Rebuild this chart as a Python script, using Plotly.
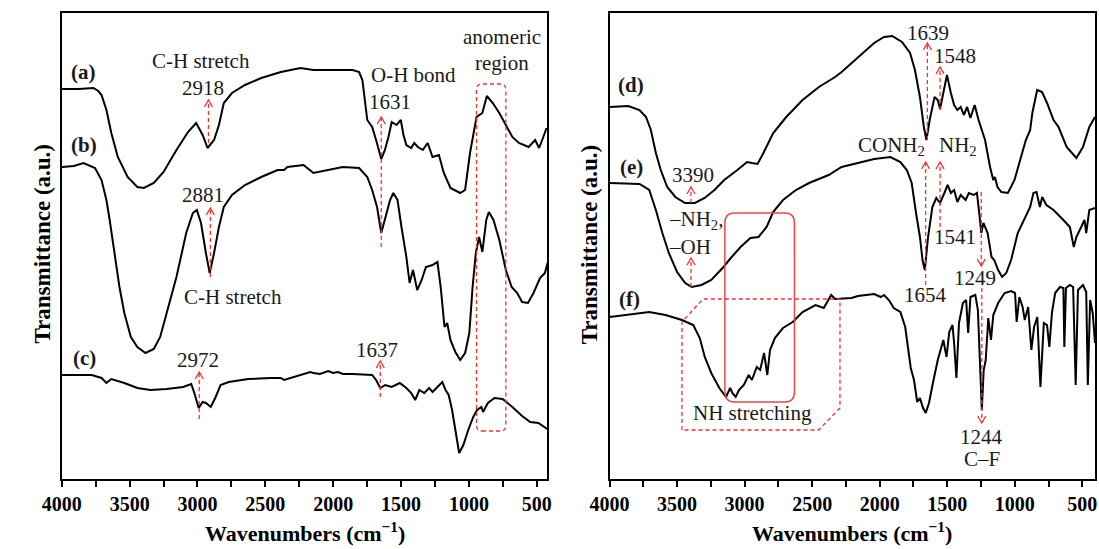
import plotly.graph_objects as go

# ---------------- data (wavenumber, cm-1 ; transmittance, a.u. offset) ----------------
a_wn = [3998, 3875, 3767, 3731, 3707, 3671, 3635, 3587, 3515, 3443, 3395, 3322, 3250, 3155, 3070, 3010, 2962, 2926, 2878, 2842,
        2806, 2746, 2650, 2530, 2386, 2241, 2146, 2001, 1857, 1809, 1785, 1749, 1713, 1684, 1646, 1619, 1593, 1569, 1533, 1502,
        1482, 1461, 1425, 1403, 1376, 1340, 1304, 1268, 1221, 1185, 1136, 1064, 1028, 992, 944, 901, 868, 824, 776, 728,
        680, 632, 560, 512, 483, 452, 428]
a_t = [390, 390, 391, 388, 384, 369, 346, 322, 302, 292, 291, 296, 307, 329, 347, 356, 344, 331, 339, 354,
       376, 386, 394, 401, 407, 411, 409, 409, 409, 407, 399, 359, 352, 339, 320, 329, 342, 357, 354, 359,
       344, 334, 331, 336, 332, 329, 336, 322, 324, 306, 291, 286, 289, 326, 362, 366, 383, 376, 366, 354,
       342, 336, 332, 339, 331, 342, 351]

b_wn = [3998, 3911, 3839, 3755, 3707, 3671, 3647, 3611, 3575, 3539, 3491, 3443, 3383, 3322, 3275, 3227, 3155, 3083, 3034, 3005,
        2974, 2938, 2910, 2878, 2842, 2806, 2746, 2650, 2530, 2410, 2362, 2338, 2266, 2218, 2146, 2037, 1929, 1809, 1749, 1713,
        1677, 1646, 1617, 1581, 1557, 1526, 1497, 1461, 1437, 1412, 1381, 1348, 1317, 1268, 1232, 1208, 1180, 1160, 1136, 1100,
        1064, 1028, 997, 973, 949, 925, 901, 872, 853, 819, 776, 728, 685, 644, 608, 565, 524, 476, 440, 421]
b_t = [312, 313, 316, 311, 299, 279, 259, 226, 192, 166, 142, 132, 126, 130, 142, 166, 202, 246, 266, 269,
       256, 226, 206, 226, 252, 272, 284, 294, 302, 309, 309, 312, 313, 314, 306, 309, 312, 311, 302, 289,
       272, 246, 262, 279, 286, 279, 252, 222, 196, 209, 189, 199, 212, 214, 217, 192, 152, 156, 139, 127,
       119, 126, 146, 192, 226, 242, 227, 259, 267, 259, 239, 209, 192, 186, 177, 176, 186, 201, 206, 216]

c_wn = [3998, 3779, 3707, 3671, 3635, 3539, 3443, 3347, 3227, 3106, 3046, 3023, 2991, 2962, 2938, 2902, 2866, 2830, 2770, 2626,
        2458, 2386, 2362, 2313, 2241, 2169, 2146, 2097, 2037, 2001, 1965, 1929, 1857, 1713, 1684, 1653, 1617, 1569, 1509, 1461,
        1425, 1396, 1365, 1329, 1293, 1268, 1232, 1196, 1172, 1149, 1124, 1100, 1072, 1041, 1005, 968, 940, 908, 896, 860,
        812, 752, 680, 608, 548, 488, 440, 423]
c_t = [104, 104, 101, 96, 100, 96, 91, 89, 90, 92, 95, 86, 71, 77, 76, 72, 82, 94, 97, 100,
       101, 101, 99, 101, 104, 107, 106, 105, 108, 106, 107, 105, 105, 104, 99, 91, 94, 92, 96, 91,
       86, 79, 89, 86, 91, 87, 92, 97, 89, 84, 69, 49, 26, 34, 49, 62, 69, 72, 67, 76,
       81, 80, 72, 63, 57, 56, 52, 50]

d_wn = [3996, 3911, 3862, 3778, 3730, 3694, 3657, 3621, 3573, 3513, 3441, 3368, 3296, 3223, 3151, 3054, 2982, 2946, 2904, 2861,
        2788, 2692, 2571, 2450, 2330, 2282, 2161, 2041, 1968, 1907, 1835, 1775, 1739, 1702, 1673, 1654, 1630, 1594, 1570, 1553,
        1529, 1502, 1473, 1449, 1425, 1400, 1377, 1353, 1328, 1297, 1268, 1220, 1183, 1159, 1147, 1128, 1099, 1051, 1002, 954,
        918, 886, 870, 834, 798, 761, 713, 676, 616, 544, 495, 448, 406]
d_t = [372, 373, 373, 369, 362, 349, 326, 309, 292, 282, 276, 276, 281, 289, 299, 309, 317, 316, 315, 326,
       346, 362, 379, 392, 402, 407, 422, 436, 442, 443, 437, 426, 409, 382, 352, 339, 359, 382, 379, 370,
       386, 404, 386, 374, 369, 372, 364, 372, 361, 374, 359, 339, 312, 299, 302, 292, 287, 286, 299, 322,
       339, 349, 366, 389, 387, 376, 359, 352, 332, 321, 332, 352, 362]

e_wn = [3998, 3778, 3706, 3657, 3609, 3561, 3500, 3440, 3392, 3319, 3247, 3163, 3102, 3030, 2957, 2897, 2837, 2789, 2716, 2620,
        2523, 2378, 2282, 2137, 2041, 1920, 1847, 1799, 1763, 1731, 1722, 1702, 1683, 1666, 1642, 1610, 1581, 1553, 1521, 1497,
        1473, 1449, 1425, 1400, 1364, 1340, 1304, 1280, 1263, 1248, 1232, 1201, 1172, 1152, 1123, 1094, 1063, 1027, 978, 930,
        886, 862, 839, 814, 797, 766, 713, 640, 592, 563, 544, 508, 484, 471, 448, 406]
e_t = [296, 295, 289, 269, 246, 226, 207, 196, 192, 194, 199, 211, 221, 232, 241, 242, 252, 267, 279, 289,
       296, 304, 312, 317, 320, 322, 317, 309, 296, 266, 259, 242, 219, 209, 242, 272, 281, 276, 286, 294,
       286, 289, 277, 284, 279, 286, 284, 286, 266, 246, 256, 246, 222, 219, 209, 202, 206, 219, 246, 259,
       272, 286, 287, 272, 282, 274, 269, 259, 252, 232, 242, 252, 259, 246, 269, 271]

f_wn = [3998, 3875, 3706, 3585, 3464, 3380, 3332, 3295, 3247, 3187, 3138, 3107, 3091, 3066, 3042, 3006, 2970, 2946, 2910, 2885,
        2856, 2832, 2812, 2776, 2716, 2644, 2571, 2475, 2414, 2359, 2330, 2209, 2161, 2041, 1992, 1968, 1932, 1896, 1847, 1811,
        1787, 1770, 1746, 1722, 1702, 1679, 1659, 1635, 1606, 1570, 1529, 1505, 1485, 1461, 1449, 1432, 1413, 1384, 1360, 1345,
        1328, 1292, 1273, 1256, 1244, 1230, 1215, 1196, 1176, 1159, 1123, 1075, 1027, 998, 986, 966, 942, 926, 901, 877,
        857, 833, 810, 785, 761, 744, 725, 701, 665, 640, 633, 621, 592, 568, 549, 532, 495, 471, 459, 442,
        423, 406]
f_t = [162, 164, 167, 164, 159, 154, 141, 122, 106, 91, 82, 91, 86, 82, 89, 94, 104, 99, 112, 109,
       126, 104, 129, 141, 151, 157, 167, 174, 171, 184, 180, 181, 183, 185, 182, 184, 179, 171, 167, 152,
       129, 111, 99, 77, 81, 71, 66, 76, 96, 119, 139, 122, 147, 154, 136, 101, 156, 176, 179, 146,
       182, 184, 169, 99, 69, 109, 119, 161, 139, 164, 176, 186, 188, 186, 157, 182, 172, 159, 172, 129,
       152, 162, 92, 156, 154, 132, 166, 186, 192, 191, 132, 191, 194, 192, 94, 189, 194, 187, 94, 179,
       166, 136]

major_ticks = [4000, 3500, 3000, 2500, 2000, 1500, 1000, 500]
minor_ticks = [3750, 3250, 2750, 2250, 1750, 1250, 750]

# ---------------- styling ----------------
FONT = "Liberation Serif"
RED = "#ff2b2b"
TXT = "#1a1a1a"
LBL = 21

fig = go.Figure()
for wn, t in [(a_wn, a_t), (b_wn, b_t), (c_wn, c_t)]:
    fig.add_trace(go.Scatter(x=wn, y=t, mode="lines", line=dict(color="black", width=2),
                             xaxis="x", yaxis="y", showlegend=False, hoverinfo="skip"))
for wn, t in [(d_wn, d_t), (e_wn, e_t), (f_wn, f_t)]:
    fig.add_trace(go.Scatter(x=wn, y=t, mode="lines", line=dict(color="black", width=2),
                             xaxis="x2", yaxis="y2", showlegend=False, hoverinfo="skip"))

annotations = []
shapes = []


def txt(ax, x, y, s, size=LBL, bold=False, xanchor="center"):
    annotations.append(dict(xref="x" if ax == 1 else "x2", yref="y" if ax == 1 else "y2",
                            x=x, y=y, text=s, showarrow=False, xanchor=xanchor, yanchor="middle",
                            font=dict(family=FONT, size=size, color=TXT,
                                      weight="bold" if bold else "normal")))


def dline(ax, x, y0, y1, head):
    xr = "x" if ax == 1 else "x2"
    yr = "y" if ax == 1 else "y2"
    shapes.append(dict(type="line", xref=xr, yref=yr, x0=x, x1=x, y0=y0, y1=y1,
                       line=dict(color=RED, width=1.3, dash="4px,3px")))
    if head == "up":
        p = "M -4,-7 L 0,0 L 4,-7"
    else:
        p = "M -4,7 L 0,0 L 4,7"
    shapes.append(dict(type="path", xref=xr, yref=yr, xsizemode="pixel", ysizemode="pixel",
                       xanchor=x, yanchor=y1, path=p, line=dict(color=RED, width=1.3)))


def rrect(x0, x1, y0, y1, rx, ry):
    sx = 1 if x1 > x0 else -1
    sy = 1 if y1 > y0 else -1
    dx, dy = rx * sx, ry * sy
    return (f"M {x0+dx},{y0} L {x1-dx},{y0} Q {x1},{y0} {x1},{y0+dy} L {x1},{y1-dy} "
            f"Q {x1},{y1} {x1-dx},{y1} L {x0+dx},{y1} Q {x0},{y1} {x0},{y1-dy} L {x0},{y0+dy} "
            f"Q {x0},{y0} {x0+dx},{y0} Z")


# left panel labels
txt(1, 3839, 407, "(a)", bold=True)
txt(1, 3839, 334, "(b)", bold=True)
txt(1, 3832, 121, "(c)", bold=True)
txt(1, 2974, 418, "C-H stretch")
txt(1, 2962, 391, "2918")
dline(1, 2919, 336, 379, "up")
txt(1, 2962, 284, "2881")
dline(1, 2905, 202, 271, "up")
txt(1, 2740, 182, "C-H stretch")
txt(1, 1410, 404, "O-H bond")
txt(1, 1585, 377, "1631")
dline(1, 1646, 232, 362, "up")
txt(1, 755, 442, "anomeric")
txt(1, 755, 416, "region")
shapes.append(dict(type="path", xref="x", yref="y", path=rrect(944, 728, 48, 395, 40, 6),
                   line=dict(color=RED, width=1.3, dash="4px,3px")))
txt(1, 2998, 119, "2972")
dline(1, 2987, 60, 107, "up")
txt(1, 1677, 129, "1637")
dline(1, 1653, 82, 118, "up")

# right panel labels
txt(2, 3839, 394, "(d)", bold=True)
txt(2, 3839, 312, "(e)", bold=True)
txt(2, 3851, 180, "(f)", bold=True)
txt(2, 3380, 304, "3390")
dline(2, 3397, 276, 292, "up")
txt(2, 3573, 259, "–NH<sub>2</sub>,", xanchor="left")
txt(2, 3573, 232, "–OH", xanchor="left")
dline(2, 3397, 192, 221, "up")
shapes.append(dict(type="path", xref="x2", yref="y2", path=rrect(3146, 2631, 77, 266, 72, 10),
                   line=dict(color="#f04545", width=1.5)))
shapes.append(dict(type="path", xref="x2", yref="y2",
                   path="M 3464,49 L 3464,157 L 3308,180 L 2294,180 L 2294,71 L 2451,49 Z",
                   line=dict(color=RED, width=1.3, dash="4px,3px")))
txt(2, 2941, 66, "NH stretching")
txt(2, 1642, 446, "1639")
dline(2, 1647, 339, 436, "up")
txt(2, 1442, 423, "1548")
dline(2, 1553, 369, 412, "up")
txt(2, 1912, 333, "CONH<sub>2</sub>")
txt(2, 1422, 333, "NH<sub>2</sub>")
dline(2, 1660, 194, 317, "up")
dline(2, 1553, 252, 317, "up")
txt(2, 1442, 242, "1541")
txt(2, 1659, 184, "1654")
txt(2, 1292, 201, "1249")
dline(2, 1248, 287, 213, "down")
txt(2, 1244, 42, "1244")
txt(2, 1244, 20, "C–F")
dline(2, 1244, 191, 56, "down")

# axis titles
for xp in [291 / 1099, 851 / 1099]:
    annotations.append(dict(xref="paper", yref="paper", x=xp, y=1 - 532 / 549, text="Wavenumbers (cm<sup>−1</sup>)",
                            showarrow=False, xanchor="center", yanchor="middle",
                            font=dict(family=FONT, size=22, color="black", weight="bold")))
for xp in [22 / 1099, 582 / 1099]:
    annotations.append(dict(xref="paper", yref="paper", x=xp, y=1 - 244 / 549, text="Transmittance (a.u.)",
                            showarrow=False, xanchor="center", yanchor="middle", textangle=-90,
                            font=dict(family=FONT, size=23, color="black", weight="bold")))

xcommon = dict(tickmode="array", tickvals=major_ticks, ticks="outside", ticklen=6, tickwidth=1.5,
               tickcolor="black", showline=True, linecolor="black", linewidth=2, mirror=True,
               showgrid=False, zeroline=False,
               minor=dict(tickmode="array", tickvals=minor_ticks, ticks="outside", ticklen=6,
                          tickwidth=1.5, tickcolor="black", showgrid=False),
               tickfont=dict(family=FONT, size=20, color="black", weight="bold"))
ycommon = dict(range=[0, 466], showticklabels=False, ticks="", showline=True, linecolor="black",
               linewidth=2, mirror=True, showgrid=False, zeroline=False,
               domain=[1 - 479 / 549, 1 - 13 / 549])

fig.update_layout(
    width=1099, height=549, margin=dict(l=0, r=0, t=0, b=0),
    paper_bgcolor="white", plot_bgcolor="white",
    xaxis=dict(domain=[42.7 / 1099, 539 / 1099], range=[4000, 423], anchor="y", **xcommon),
    yaxis=dict(anchor="x", **ycommon),
    xaxis2=dict(domain=[602.7 / 1099, 1.0], range=[4000, 406], anchor="y2", **xcommon),
    yaxis2=dict(anchor="x2", **ycommon),
    annotations=annotations, shapes=shapes,
)

fig.write_html("out.html")
